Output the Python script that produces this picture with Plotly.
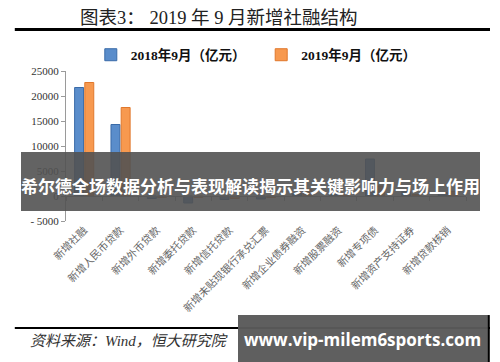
import plotly.graph_objects as go

categories = ["新增社融", "新增人民币贷款", "新增外币贷款", "新增委托贷款", "新增信托贷款",
              "新增未贴现银行承兑汇票", "新增企业债券融资", "新增股票融资", "新增专项债",
              "新增资产支持证券", "新增贷款核销"]
series_2018 = [21700, 14300, -500, -1400, -700, -600, 500, 300, 7400, 1000, 700]
series_2019 = [22700, 17700, -300, -300, -500, -300, 1400, 150, 2000, 300, 900]
name_2018 = "2018年9月（亿元）"
name_2019 = "2019年9月（亿元）"
ytick_vals = [-5000, 0, 5000, 10000, 15000, 20000, 25000]
ytick_text = ["- 5000", "0", "5000", "10000", "15000", "20000", "25000"]

title_text = "图表3： 2019 年 9 月新增社融结构"
source_text = "资料来源：Wind，恒大研究院"
overlay_text = "希尔德全场数据分析与表现解读揭示其关键影响力与场上作用"
overlay_url = "www.vip-milem6sports.com"

SERIF = "Liberation Serif, Noto Sans CJK SC, serif"
CJK = "Noto Sans CJK SC, sans-serif"

fig = go.Figure()
fig.add_trace(go.Bar(x=categories, y=series_2018, name=name_2018, legend="legend",
                     marker=dict(color="#5A8DCB", line=dict(color="#3A6BA8", width=1))))
fig.add_trace(go.Bar(x=categories, y=series_2019, name=name_2019, legend="legend2",
                     marker=dict(color="#F7994F", line=dict(color="#E0782C", width=1))))
# helper axis for the zero line with category tick marks
fig.add_trace(go.Scatter(x=[None], y=[None], xaxis="x2", yaxis="y", showlegend=False,
                         hoverinfo="skip"))

legend_font = dict(family=SERIF, size=13.5, color="#111", weight="bold")
fig.update_layout(
    width=492, height=354,
    margin=dict(l=58, r=34, t=63, b=141, autoexpand=False),
    paper_bgcolor="white", plot_bgcolor="white",
    barmode="group", bargap=0.44, bargroupgap=0.12,
    showlegend=True,
    legend=dict(orientation="h", x=0.062, y=1.107, xanchor="left", yanchor="middle",
                font=legend_font, itemwidth=30, bgcolor="rgba(0,0,0,0)"),
    legend2=dict(orientation="h", x=0.488, y=1.107, xanchor="left", yanchor="middle",
                 font=legend_font, itemwidth=30, bgcolor="rgba(0,0,0,0)"),
    xaxis=dict(type="category", showline=False, ticks="", tickangle=-45,
               tickfont=dict(family=CJK, size=10.5, color="#666"),
               showgrid=False, zeroline=False, automargin=False),
    xaxis2=dict(overlaying="x", anchor="free", position=1/6, range=[-0.5, 10.5],
                showline=True, linecolor="#9a9a9a", linewidth=1,
                ticks="outside", ticklen=4, tickcolor="#9a9a9a",
                tickvals=[i - 0.5 for i in range(len(categories) + 1)],
                showticklabels=False, showgrid=False, zeroline=False, automargin=False),
    yaxis=dict(range=[-5000, 25000], tickvals=ytick_vals, ticktext=ytick_text,
               showline=True, linecolor="#9a9a9a", linewidth=1,
               ticks="outside", ticklen=4, tickcolor="#9a9a9a",
               tickfont=dict(family=SERIF, size=11, color="#333"),
               showgrid=False, zeroline=False, automargin=False),
)

shapes = [
    dict(type="line", xref="paper", yref="paper", x0=-0.128, x1=1.06,
         y0=1.277, y1=1.277, line=dict(color="black", width=3)),
    dict(type="line", xref="paper", yref="paper", x0=-0.128, x1=1.06,
         y0=-0.713, y1=-0.713, line=dict(color="black", width=2)),
    dict(type="rect", xref="paper", yref="paper", x0=-0.1125, x1=1.035,
         y0=0.067, y1=0.46, fillcolor="rgba(82,82,82,0.9)", line=dict(width=0),
         layer="above"),
    dict(type="rect", xref="paper", yref="paper", x0=0.43, x1=1.055,
         y0=-0.94, y1=-0.627, fillcolor="rgba(90,90,90,0.97)", line=dict(width=0),
         layer="above"),
    dict(type="line", xref="paper", yref="paper", x0=1.057, x1=1.057,
         y0=-0.94, y1=-0.627, line=dict(color="black", width=2), layer="above"),
]
fig.update_layout(shapes=shapes)

annotations = [
    dict(text=title_text, xref="paper", yref="paper", x=0.03, y=1.35,
         xanchor="left", yanchor="middle", showarrow=False,
         font=dict(family=SERIF, size=18.5, color="#222")),
    dict(text="<i>" + source_text + "</i>", xref="paper", yref="paper", x=-0.095, y=-0.80,
         xanchor="left", yanchor="middle", showarrow=False,
         font=dict(family=SERIF, size=15, color="#333")),
    dict(text="<b>" + overlay_text + "</b>", xref="paper", yref="paper", x=0.461, y=0.24,
         xanchor="center", yanchor="middle", showarrow=False,
         font=dict(family=CJK, size=17, color="white")),
    dict(text="<b>" + overlay_url + "</b>", xref="paper", yref="paper", x=0.74, y=-0.787,
         xanchor="center", yanchor="middle", showarrow=False,
         font=dict(family="Open Sans, DejaVu Sans, sans-serif", size=17, color="white")),
]
fig.update_layout(annotations=annotations)

fig.write_html("out.html")
